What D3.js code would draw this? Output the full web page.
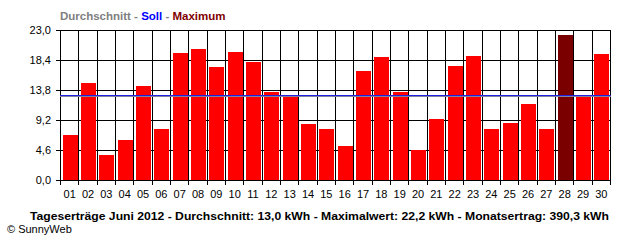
<!DOCTYPE html>
<html>
<head>
<meta charset="utf-8">
<script src="https://cdn.jsdelivr.net/npm/d3@7.9.0/dist/d3.min.js"></script>
<style>
  body { margin: 0; background: #fff; }
  svg { display: block; }
  text { font-family: "Liberation Sans", Arial, sans-serif; }
  .bold { font-weight: bold; }
</style>
</head>
<body>
<svg width="640" height="240"></svg>
<script>
const days = ['01','02','03','04','05','06','07','08','09','10','11','12','13','14','15',
  '16','17','18','19','20','21','22','23','24','25','26','27','28','29','30'];
const yields = [6.9, 14.9, 3.8, 6.1, 14.4, 7.8, 19.5, 20.1, 17.3, 19.6, 18.1, 13.5, 12.9, 8.6, 7.8,
  5.2, 16.7, 18.9, 13.5, 4.6, 9.4, 17.5, 19.0, 7.8, 8.7, 11.7, 7.8, 22.2, 12.9, 19.3];
const yTicks = [0, 4.6, 9.2, 13.8, 18.4, 23.0];
const average = 13.0;
const target = 13.1;
const legendItems = ['Durchschnitt', 'Soll', 'Maximum'];
const legendColors = ['#808080', '#0000ff', '#800000'];
const title = 'Tageserträge Juni 2012 - Durchschnitt: 13,0 kWh - Maximalwert: 22,2 kWh - Monatsertrag: 390,3 kWh';

const svg = d3.select('svg');
const plotLeft = 60, plotRight = 610, plotTop = 30, plotBottom = 180;

let x = d3.scaleBand().domain(days).range([plotLeft, plotRight]).paddingInner(0.18).paddingOuter(0.09);
let y = d3.scaleLinear().domain([0, 23]).range([plotBottom, plotTop]);
let fmt = (v) => d3.format('.1f')(v).replace('.', ',');
let maxVal = d3.max(yields);

// bin edges for the vertical grid
let edges = d3.range(days.length + 1).map((i) => plotLeft + i * x.step());

let grid = svg.append('g').attr('stroke', '#000').attr('shape-rendering', 'crispEdges');
yTicks.forEach((t) => {
  let yy = Math.round(y(t)) + 0.5;
  grid.append('line').attr('x1', plotLeft - 4).attr('x2', plotRight).attr('y1', yy).attr('y2', yy);
});
edges.forEach((e) => {
  let xx = Math.round(e) + 0.5;
  grid.append('line').attr('x1', xx).attr('x2', xx).attr('y1', plotTop).attr('y2', plotBottom + 5);
});

svg.append('g').selectAll('rect').data(yields).join('rect')
  .attr('x', (d, i) => Math.round(x(days[i])) + 1)
  .attr('width', Math.round(x.bandwidth()))
  .attr('y', (d) => Math.round(y(d)))
  .attr('height', (d) => plotBottom - Math.round(y(d)))
  .attr('fill', (d) => d === maxVal ? '#7a0000' : '#ff0000')
  .attr('shape-rendering', 'crispEdges');

// Soll and Durchschnitt lines
svg.append('line').attr('x1', plotLeft).attr('x2', plotRight + 1)
  .attr('y1', Math.round(y(average)) + 1.5).attr('y2', Math.round(y(average)) + 1.5)
  .attr('stroke', '#8080a0').attr('shape-rendering', 'crispEdges');
svg.append('line').attr('x1', plotLeft).attr('x2', plotRight + 1)
  .attr('y1', Math.round(y(target)) + 0.5).attr('y2', Math.round(y(target)) + 0.5)
  .attr('stroke', '#2020e0').attr('shape-rendering', 'crispEdges');

svg.append('g').selectAll('text').data(yTicks).join('text')
  .attr('x', 51).attr('y', (d) => y(d) + 4)
  .attr('text-anchor', 'end').attr('font-size', 11)
  .text(fmt);

svg.append('g').selectAll('text').data(days).join('text')
  .attr('x', (d) => x(d) + x.bandwidth() / 2 + 0.5).attr('y', 198)
  .attr('text-anchor', 'middle').attr('font-size', 11)
  .text((d) => d);

let legend = svg.append('text').attr('class', 'bold').attr('x', 60).attr('y', 20).attr('font-size', 11.5);
legendItems.forEach((item, i) => {
  if (i > 0) legend.append('tspan').attr('fill', legendColors[0]).text(' - ');
  legend.append('tspan').attr('fill', legendColors[i]).text(item);
});

svg.append('text').attr('class', 'bold').attr('x', 30).attr('y', 220)
  .attr('font-size', 11.5).attr('textLength', 579).attr('lengthAdjust', 'spacingAndGlyphs')
  .text(title);

svg.append('text').attr('x', 7).attr('y', 233).attr('font-size', 11)
  .text('© SunnyWeb');
</script>
</body>
</html>
